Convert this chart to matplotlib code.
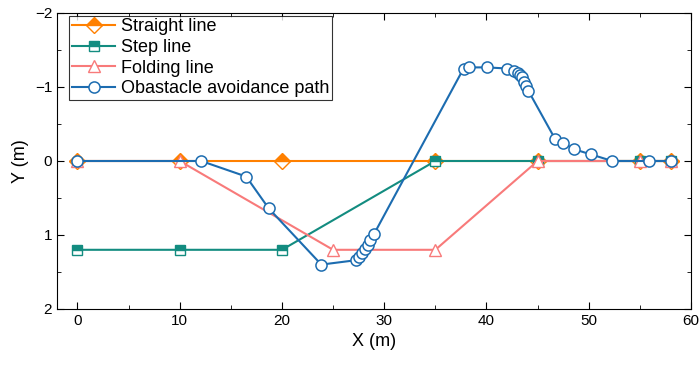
import numpy as np
import matplotlib.pyplot as plt

plt.rcParams['font.family'] = ['Liberation Sans', 'DejaVu Sans']

# straight reference line
x_straight = [0, 10, 20, 35, 45, 55, 58]
y_straight = [0, 0, 0, 0, 0, 0, 0]

# step line
x_step = [0, 10, 20, 35, 45, 55, 58]
y_step = [1.2, 1.2, 1.2, 0, 0, 0, 0]

# folding line
x_fold = [0, 10, 25, 35, 45, 55, 58]
y_fold = [0, 0, 1.2, 1.2, 0, 0, 0]

# obstacle avoidance path
x_path = [0, 12.1, 16.5, 18.7, 23.85, 27.27, 27.5, 27.83, 28.15, 28.4, 28.64, 29.03,
          37.76, 38.25, 40.05, 42.0, 42.7, 43.04, 43.3, 43.5, 43.7, 43.86, 44.09,
          46.7, 47.5, 48.6, 50.2, 52.3, 55.9, 58]
y_path = [0, 0, 0.21, 0.64, 1.40, 1.34, 1.30, 1.24, 1.19, 1.13, 1.07, 0.98,
          -1.25, -1.265, -1.265, -1.25, -1.22, -1.195, -1.16, -1.13, -1.07, -1.01, -0.95,
          -0.30, -0.245, -0.157, -0.09, 0, 0, 0]

c_orange = '#ff8000'
c_teal = '#138c80'
c_pink = '#f87a7a'
c_blue = '#1c6cb0'

fig = plt.figure(figsize=(7, 3.65), dpi=100)
ax = fig.add_axes([57/700, 1-309/365, (691-57)/700, (309-13)/365])

ax.plot(x_straight, y_straight, color=c_orange, lw=1.5, marker='D', ms=8.5,
        fillstyle='top', markerfacecoloralt='white', mec=c_orange, label='Straight line')
ax.plot(x_step, y_step, color=c_teal, lw=1.5, marker='s', ms=6.5,
        fillstyle='top', markerfacecoloralt='white', mec=c_teal, label='Step line')
ax.plot(x_fold, y_fold, color=c_pink, lw=1.5, marker='^', ms=8.5,
        mfc='white', mec=c_pink, label='Folding line')
ax.plot(x_path, y_path, color=c_blue, lw=1.5, marker='o', ms=8,
        mfc='white', mec=c_blue, mew=1.1, label='Obastacle avoidance path')

ax.set_xlim(-2, 60)
ax.set_ylim(2, -2)
ax.set_xticks(np.arange(0, 61, 10))
ax.set_xticks(np.arange(5, 60, 10), minor=True)
ax.set_yticks([-2, -1, 0, 1, 2])
ax.set_yticks([-1.5, -0.5, 0.5, 1.5], minor=True)
ax.tick_params(which='both', direction='in', top=True, right=True, labelsize=11)
ax.tick_params(which='major', length=5)
ax.tick_params(which='minor', length=3)
ax.set_xlabel('X (m)', fontsize=13)
ax.set_ylabel('Y (m)', fontsize=13)

leg = ax.legend(loc='upper left', fontsize=13, frameon=True, fancybox=False,
                edgecolor='black', handlelength=2.4, borderpad=0.15, labelspacing=0.2,
                handletextpad=0.3, borderaxespad=0.15, bbox_to_anchor=(0.015, 1.0))
leg.get_frame().set_linewidth(0.8)

fig.savefig('out.png', dpi=100)
